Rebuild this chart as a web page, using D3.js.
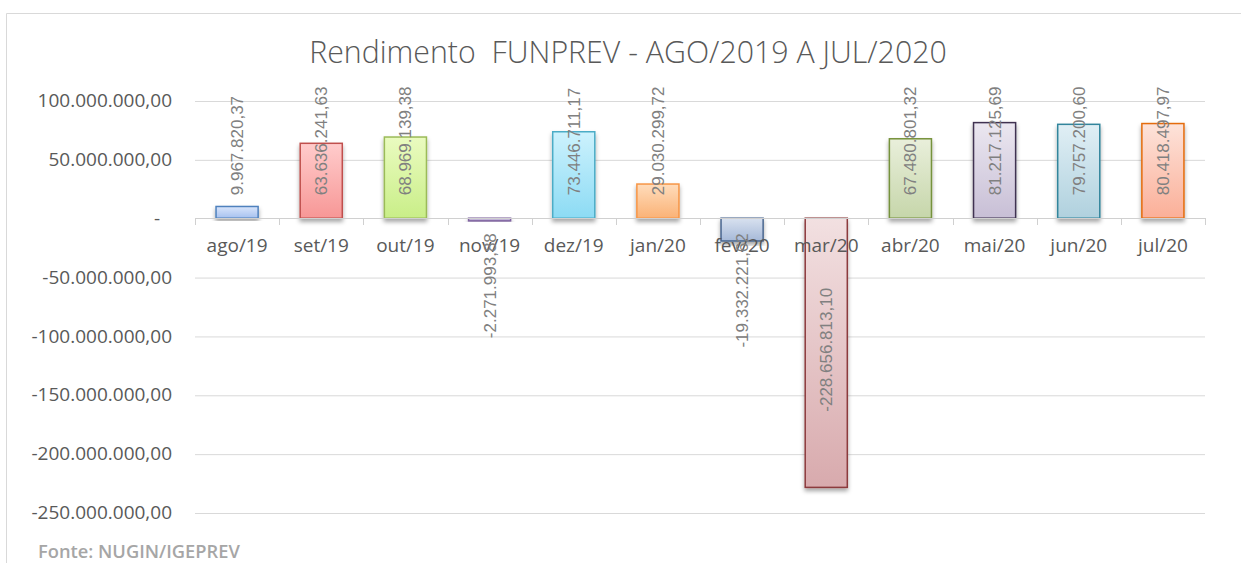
<!DOCTYPE html>
<html>
<head>
<meta charset="utf-8">
<script src="https://cdn.jsdelivr.net/npm/d3@7"></script>
<style>
  html, body { margin: 0; padding: 0; background: #ffffff; }
  svg { display: block; }
</style>
</head>
<body>
<svg id="chart" width="1241" height="563"></svg>
<script>
// ---- data ----
const categories = ["ago/19", "set/19", "out/19", "nov/19", "dez/19", "jan/20",
                    "fev/20", "mar/20", "abr/20", "mai/20", "jun/20", "jul/20"];
const values = [9967820.37, 63636241.63, 68969139.38, -2271993.88, 73446711.17, 29030299.72,
                -19332221.62, -228656813.10, 67480801.32, 81217125.69, 79757200.60, 80418497.97];
const valueLabels = ["9.967.820,37", "63.636.241,63", "68.969.139,38", "-2.271.993,88",
                     "73.446.711,17", "29.030.299,72", "-19.332.221,62", "-228.656.813,10",
                     "67.480.801,32", "81.217.125,69", "79.757.200,60", "80.418.497,97"];
const yTicks = [-250000000, -200000000, -150000000, -100000000, -50000000, 0, 50000000, 100000000];
const yTickLabels = ["-250.000.000,00", "-200.000.000,00", "-150.000.000,00", "-100.000.000,00",
                     "-50.000.000,00", "-", "50.000.000,00", "100.000.000,00"];
const titleText = "Rendimento\u00a0\u00a0FUNPREV - AGO/2019 A JUL/2020";
const sourceText = "Fonte: NUGIN/IGEPREV";

// ---- styles ----
const fillTop = ["#d9e5fb", "#ffcccc", "#eafbc0", "#d3c9e3", "#cdf2fd", "#ffdcbb",
                 "#d8e1ef", "#f2e0e1", "#e9efdb", "#ebe7f0", "#e0eff5", "#fde3da"];
const fillBottom = ["#a6c1ef", "#f79796", "#c9ee88", "#b09fca", "#8cdbf4", "#fab276",
                    "#a6b9d8", "#d8aaad", "#c6d6aa", "#c8bfd6", "#b0d1de", "#fbaf98"];
const strokes = ["#4f81bd", "#c0504d", "#9bbb59", "#8064a2", "#4bacc6", "#f79646",
                 "#4a6790", "#8c3a3d", "#76923c", "#3f3151", "#31859c", "#e46c0a"];

const svg = d3.select("#chart");
const W = 1241, H = 563;
const plot = { left: 195, right: 1205, top: 100.5, bottom: 512.5 };

const x = d3.scaleBand().domain(categories).range([plot.left, plot.right]).paddingInner(0).paddingOuter(0);
const y = d3.scaleLinear().domain([-250000000, 100000000]).range([plot.bottom, plot.top]);
const y0 = y(0);

// defs: gradients + shadow
const defs = svg.append("defs");
categories.forEach((c, i) => {
  const g = defs.append("linearGradient").attr("id", "grad" + i)
    .attr("x1", 0).attr("y1", 0).attr("x2", 0).attr("y2", 1);
  g.append("stop").attr("offset", "0%").attr("stop-color", fillTop[i]);
  g.append("stop").attr("offset", "100%").attr("stop-color", fillBottom[i]);
});
const f = defs.append("filter").attr("id", "shadow").attr("x", "-20%").attr("y", "-20%").attr("width", "140%").attr("height", "140%");
f.append("feDropShadow").attr("dx", 0).attr("dy", 3).attr("stdDeviation", 2)
  .attr("flood-color", "#000").attr("flood-opacity", 0.35);

// frame
svg.append("line").attr("x1", 6.5).attr("x2", W).attr("y1", 13.5).attr("y2", 13.5)
  .attr("stroke", "#d9d9d9").attr("stroke-width", 1);
svg.append("line").attr("x1", 6.5).attr("x2", 6.5).attr("y1", 13.5).attr("y2", H)
  .attr("stroke", "#d9d9d9").attr("stroke-width", 1);

// title
svg.append("text").attr("x", 628).attr("y", 63)
  .attr("text-anchor", "middle")
  .attr("font-family", "'Open Sans', sans-serif").attr("font-size", 30.3).attr("font-weight", 300)
  .attr("fill", "#595959").text(titleText);

// gridlines + y labels
const yAxis = d3.axisLeft(y).tickValues(yTicks).tickSize(-(plot.right - plot.left))
  .tickFormat((d, i) => yTickLabels[i]).tickPadding(23);
const gy = svg.append("g").attr("transform", `translate(${plot.left},0)`).call(yAxis);
gy.select(".domain").remove();
gy.selectAll(".tick line").attr("stroke", "#d9d9d9").attr("stroke-width", 1)
  .attr("transform", "translate(0,0.5)");
gy.selectAll(".tick line").filter(d => d === 0).remove();
gy.selectAll(".tick text")
  .attr("font-family", "'Open Sans', sans-serif").attr("font-size", 19)
  .attr("fill", "#595959")
  .attr("dx", d => d === 0 ? -12 : 0);

// bars
svg.append("g").selectAll("rect").data(values).join("rect")
  .attr("x", (d, i) => x(categories[i]) + x.bandwidth() * 0.25)
  .attr("width", x.bandwidth() * 0.5)
  .attr("y", d => Math.min(y(d), y0))
  .attr("height", d => Math.abs(y(d) - y0))
  .attr("fill", (d, i) => `url(#grad${i})`)
  .attr("stroke", (d, i) => strokes[i])
  .attr("stroke-width", 1.5)
  .attr("filter", "url(#shadow)");

// zero axis line with ticks (drawn over bars)
const zl = svg.append("g");
zl.append("line").attr("x1", plot.left).attr("x2", plot.right)
  .attr("y1", Math.round(y0) + 0.5).attr("y2", Math.round(y0) + 0.5)
  .attr("stroke", "#d0d0d0").attr("stroke-width", 1);
const bounds = categories.map(c => x(c)).concat([plot.right]);
zl.selectAll("line.tk").data(bounds).join("line").attr("class", "tk")
  .attr("x1", d => Math.round(d) + 0.5).attr("x2", d => Math.round(d) + 0.5)
  .attr("y1", Math.round(y0)).attr("y2", Math.round(y0) + 7)
  .attr("stroke", "#d0d0d0").attr("stroke-width", 1);

// category axis at zero (on top of bars)
const xAxis = d3.axisBottom(x).tickSize(0).tickPadding(20);
const gx = svg.append("g").attr("transform", `translate(0,${y0})`).call(xAxis);
gx.select(".domain").remove();
gx.selectAll(".tick text")
  .attr("font-family", "'Open Sans', sans-serif").attr("font-size", 19)
  .attr("fill", "#595959");

// value labels (rotated)
const labFont = 17;
svg.append("g").selectAll("text").data(values).join("text")
  .attr("font-family", "'Liberation Sans', Arial, sans-serif")
  .attr("font-size", labFont)
  .attr("fill", "#808080")
  .attr("dy", "0.35em")
  .attr("transform", (d, i) => {
    const cx = x(categories[i]) + x.bandwidth() / 2;
    let cy;
    if (d >= 0) cy = y0 - 23;
    else {
      const barLen = Math.abs(y(d) - y0);
      cy = barLen > 150 ? (y0 + y(d)) / 2 - 3 : y0 + 15;
    }
    return `translate(${cx},${cy}) rotate(-90)`;
  })
  .attr("text-anchor", d => {
    if (d >= 0) return "start";
    return Math.abs(y(d) - y0) > 150 ? "middle" : "end";
  })
  .text((d, i) => valueLabels[i]);

// source
svg.append("text").attr("x", 38).attr("y", 558)
  .attr("font-family", "'Open Sans', sans-serif").attr("font-size", 18.3).attr("font-weight", 600)
  .attr("fill", "#a6a6a6").text(sourceText);
</script>
</body>
</html>
